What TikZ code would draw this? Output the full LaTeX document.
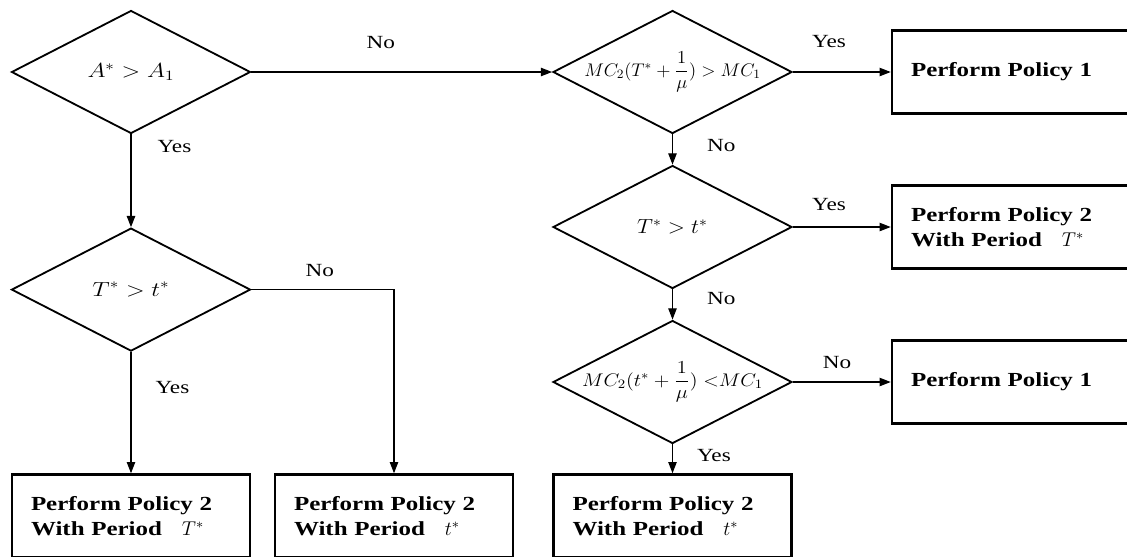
\RequirePackage{fix-cm}
\documentclass[tikz,border=0pt]{standalone}
\usepackage{amsmath}
\usepackage{graphicx}
\usepackage{fontspec}
\setmainfont{Liberation Serif}[FakeStretch=1.25]
\usetikzlibrary{shapes.geometric,arrows.meta}
\newcommand{\nowidth}[2][1.2]{\makebox[0pt]{\scalebox{#1}[1]{#2}}}

\begin{document}
\begin{tikzpicture}[dec/.style={diamond,draw,line width=1.3pt,inner sep=0pt,minimum width=5.975cm,minimum height=3.075cm,font=\fontsize{14.5}{17}\selectfont},
  act/.style={draw,line width=1.8pt,minimum height=2.075cm,text width=5cm,inner xsep=0.475cm,align=left,font=\fontsize{14.2}{17.8}\selectfont\bfseries},
  flow/.style={-{Triangle[length=8pt,width=6pt]},line width=0.8pt},
  lab/.style={inner sep=0pt,font=\fontsize{13.2}{15}\selectfont}]
\useasboundingbox (0,0) rectangle (28.175,-13.9);
% decisions
\node[dec] (d1) at (3.275,-1.8) {\nowidth{$A^* > A_1$}};
\node[dec] (d5) at (3.275,-7.24) {\nowidth{$T^* > t^*$}};
\node[dec] (d2) at (16.8125,-1.8) {\nowidth[1.02]{\fontsize{13}{15}\selectfont$MC_2(T^*+\dfrac{1}{\mu})>MC_1$}};
\node[dec] (d3) at (16.8125,-5.675) {\nowidth[1.1]{$T^* > t^*$}};
\node[dec] (d4) at (16.8125,-9.55) {\nowidth[1.12]{\fontsize{13}{15}\selectfont$MC_2(t^*+\dfrac{1}{\mu})\;{<}MC_1$}};
% actions
\node[act] (r1) at (25.275,-1.8) {Perform Policy 1};
\node[act] (r2) at (25.275,-5.675) {Perform Policy 2\\With Period\quad $T^*$};
\node[act] (r3) at (25.275,-9.55) {Perform Policy 1};
\node[act] (b1) at (3.275,-12.9) {Perform Policy 2\\With Period\quad $T^*$};
\node[act] (b2) at (9.85,-12.9) {Perform Policy 2\\With Period\quad $t^*$};
\node[act] (b3) at (16.8125,-12.9) {Perform Policy 2\\With Period\quad $t^*$};
% connectors
\draw[flow] (d1) -- node[lab,pos=.43,above=5.75mm] {No} (d2);
\draw[flow] (d1) -- node[lab,pos=.13,right=6.5mm] {Yes} (d5);
\draw[flow] (d5) -- node[lab,pos=.29,right=6mm] {Yes} (b1);
\draw[flow] (d5) -| node[lab,pos=.24,above=3mm] {No} (b2);
\draw[flow] (d2) -- node[lab,pos=.37,above=5.9mm] {Yes} (r1);
\draw[flow] (d2) -- node[lab,pos=.375,right=8.5mm] {No} (d3);
\draw[flow] (d3) -- node[lab,pos=.37,above=3.9mm] {Yes} (r2);
\draw[flow] (d3) -- node[lab,pos=.31,right=8.5mm] {No} (d4);
\draw[flow] (d4) -- node[lab,pos=.45,above=3.1mm] {No} (r3);
\draw[flow] (d4) -- node[lab,pos=.4,right=6mm] {Yes} (b3);
\end{tikzpicture}
\end{document}
